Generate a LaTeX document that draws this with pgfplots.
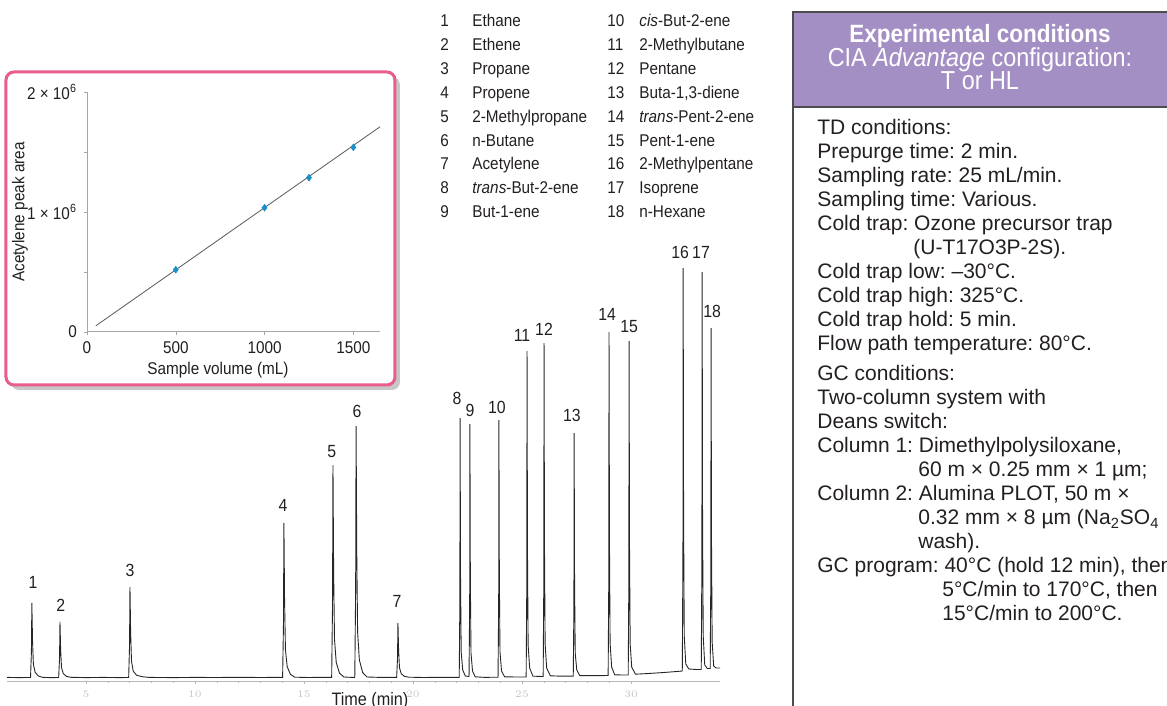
\documentclass[border=0pt]{standalone}
\usepackage{fontspec}
\setmainfont{Liberation Sans}[FakeStretch=0.9]
\newfontfamily\bodyfam{Liberation Sans}
\usepackage{pgfplots}
\pgfplotsset{compat=1.18}
\usetikzlibrary{shadows}
\definecolor{inkc}{HTML}{231F20}
\definecolor{pinkc}{HTML}{E85C8E}
\definecolor{hdrc}{HTML}{A48FC4}
\definecolor{ptc}{HTML}{1B8FCB}
\definecolor{boxc}{HTML}{4D4D4D}
\newcommand{\bodyfont}{\bodyfam\fontsize{10.5bp}{12bp}\selectfont}
\newcommand{\legfont}{\fontsize{8.5bp}{10bp}\selectfont}
\newcommand{\rl}[3]{\node[anchor=base west,font=\bodyfont,inner sep=0pt] at (#1,#2) {#3};}
\newcommand{\legline}[3]{\node[anchor=base west,font=\legfont,inner sep=0pt] at (#1,#2) {#3};}
\frenchspacing

\begin{document}
\begin{tikzpicture}[every node/.style={text=inkc}]
\useasboundingbox (0,0) rectangle (583.5bp,353bp);

% chromatogram
\begin{axis}[
  at={(3.5bp,12.5bp)}, anchor=south west,
  width=356.5bp, height=220bp, scale only axis,
  xmin=1.38, xmax=34.08, ymin=0, ymax=440,
  axis x line=bottom, axis y line=none,
  axis line style={-, draw=gray!55, line width=0.5bp},
  xtick={5,10,...,30}, minor x tick num=4,
  tick align=outside, major tick length=1.5bp, minor tick length=1bp,
  tick style={gray!55},
  xticklabel style={font=\fontsize{2.5bp}{3bp}\selectfont, text=gray!45},
  xlabel={Time (min)},
  xlabel style={font=\fontsize{9bp}{10bp}\selectfont, at={(axis description cs:0.509,-0.045)}, anchor=center},
  clip=false,
]
\addplot[black!85, line width=0.45bp] table {
t y
1.38 3.6
1.9 3.4
2.3 3.5
2.46 3.5
2.50 29.6
2.52 78
2.55 40.8
2.59 16.9
2.67 8.7
2.82 5.0
3.02 3.6
3.4 3.4
3.75 3.5
3.79 22.9
3.81 59
3.84 31.3
3.88 13.5
3.96 7.4
4.11 4.6
4.31 3.7
5.0 3.4
5.8 3.6
6.5 3.4
6.96 3.5
7.00 35.2
7.02 94
7.05 48.8
7.09 19.8
7.17 9.8
7.32 5.8
7.6 4.2
7.9 3.6
9.0 3.4
10.0 3.6
11.0 3.5
12.0 3.7
13.0 3.5
13.6 3.6
14.02 3.6
14.06 57.6
14.08 158
14.11 80.8
14.15 31.3
14.23 14.3
14.38 6.6
14.58 3.8
15.2 3.5
15.8 3.7
16.27 3.6
16.31 77.9
16.33 216
16.36 109.8
16.40 41.8
16.48 18.4
16.63 7.8
16.83 4.0
17.1 3.7
17.33 3.6
17.37 91.5
17.39 255
17.42 129.3
17.46 48.8
17.54 21.1
17.69 8.5
17.89 4.0
18.5 3.6
19.0 3.7
19.25 3.6
19.29 22.6
19.31 58
19.34 30.8
19.38 13.3
19.46 7.3
19.61 4.6
19.81 3.8
20.5 3.5
21.3 3.7
21.9 3.6
22.12 3.6
22.15 80
22.16 263
22.18 105
22.21 29
22.28 11
22.40 5.0
22.57 4.5
22.60 80
22.61 257
22.63 103
22.66 28
22.73 10
22.85 4.2
23.3 3.6
23.7 3.8
23.90 3.7
23.93 80
23.94 261
23.96 105
23.99 29
24.06 10
24.2 4.2
24.7 4.0
25.19 4.0
25.22 100
25.23 330
25.25 132
25.28 36
25.35 13
25.5 4.8
25.97 4.5
26.00 102
26.01 338
26.03 135
26.06 37
26.13 13
26.3 5.2
26.8 4.8
27.35 4.9
27.38 75
27.39 248
27.41 100
27.44 28
27.51 11
27.65 5.4
28.3 5.3
28.95 5.5
28.98 105
28.99 349
29.01 140
29.04 38
29.11 14
29.25 6.2
29.6 6.0
29.87 6.0
29.90 102
29.91 340
29.93 136
29.96 37
30.03 14
30.2 6.8
30.8 7.5
31.5 8.5
32.1 9.5
32.35 10
32.38 125
32.39 413
32.41 165
32.44 45
32.51 17
32.65 12
33.0 11.5
33.22 11.5
33.25 123
33.26 409
33.28 164
33.31 45
33.38 16
33.5 12.5
33.63 12.5
33.66 106
33.67 353
33.69 141
33.72 39
33.79 15
33.9 13
34.08 13
};
\addplot[only marks, mark=none, nodes near coords, point meta=explicit symbolic,
  nodes near coords style={font=\fontsize{8.8bp}{10bp}\selectfont, anchor=center, text=inkc}]
  table[meta=lab] {
x y lab
2.57 99 1
3.85 76 2
7.02 111 3
14.04 176 4
16.28 229 5
17.43 270 6
19.27 80 7
22.02 283 8
22.61 271 9
23.85 274 10
25.00 346 11
26.01 352 12
27.29 266 13
28.90 367 14
29.91 354 15
32.25 429 16
33.21 429 17
33.72 370 18
};
\end{axis}

\begin{scope}[x=0.5bp,y=-0.5bp,yshift=353bp]
% inset frame
\path[draw=pinkc, line width=1.5bp, fill=white, rounded corners=4bp,
  drop shadow={shadow xshift=2.5bp, shadow yshift=-2.5bp, opacity=0.22, fill=black}]
  (6,72) rectangle (395,385);

% peak list
\legline{440}{27}{1}   \legline{472}{27}{Ethane}
\legline{440}{51}{2}   \legline{472}{51}{Ethene}
\legline{440}{75}{3}   \legline{472}{75}{Propane}
\legline{440}{99}{4}   \legline{472}{99}{Propene}
\legline{440}{123}{5}  \legline{472}{123}{2-Methylpropane}
\legline{440}{147}{6}  \legline{472}{147}{n-Butane}
\legline{440}{170}{7}  \legline{472}{170}{Acetylene}
\legline{440}{194}{8}  \legline{472}{194}{\textit{trans}-But-2-ene}
\legline{440}{218}{9}  \legline{472}{218}{But-1-ene}
\legline{607}{27}{10}  \legline{639}{27}{\textit{cis}-But-2-ene}
\legline{607}{51}{11}  \legline{639}{51}{2-Methylbutane}
\legline{607}{75}{12}  \legline{639}{75}{Pentane}
\legline{607}{99}{13}  \legline{639}{99}{Buta-1,3-diene}
\legline{607}{123}{14} \legline{639}{123}{\textit{trans}-Pent-2-ene}
\legline{607}{147}{15} \legline{639}{147}{Pent-1-ene}
\legline{607}{170}{16} \legline{639}{170}{2-Methylpentane}
\legline{607}{194}{17} \legline{639}{194}{Isoprene}
\legline{607}{218}{18} \legline{639}{218}{n-Hexane}

% conditions panel
\fill[hdrc] (793,12) rectangle (1185,107);
\draw[boxc, line width=1bp] (1185,12) -- (793,12) -- (793,720);
\draw[boxc, line width=1bp] (793,107) -- (1185,107);
\node[anchor=base, text=white, inner sep=0pt, font=\fontsize{12.5bp}{14bp}\selectfont\bfseries] at (980,43) {Experimental conditions};
\node[anchor=base, text=white, inner sep=0pt, font=\fontsize{13bp}{15bp}\selectfont] at (980,67) {CIA \textit{Advantage} configuration:};
\node[anchor=base, text=white, inner sep=0pt, font=\fontsize{13bp}{15bp}\selectfont] at (980,90) {T or HL};

\rl{817}{135}{TD conditions:}
\rl{817}{159}{Prepurge time: 2 min.}
\rl{817}{183}{Sampling rate: 25 mL/min.}
\rl{817}{207}{Sampling time: Various.}
\rl{817}{231}{Cold trap: Ozone precursor trap}
\rl{913}{255}{(U-T17O3P-2S).}
\rl{817}{279}{Cold trap low: –30°C.}
\rl{817}{303}{Cold trap high: 325°C.}
\rl{817}{327}{Cold trap hold: 5 min.}
\rl{817}{351}{Flow path temperature: 80°C.}
\rl{817}{381}{GC conditions:}
\rl{817}{405}{Two-column system with}
\rl{817}{429}{Deans switch:}
\rl{817}{453}{Column 1: Dimethylpolysiloxane,}
\rl{918}{477}{60 m × 0.25 mm × 1 µm;}
\rl{817}{501}{Column 2: Alumina PLOT, 50 m ×}
\rl{918}{525}{0.32 mm × 8 µm (Na\textsubscript{2}SO\textsubscript{4}}
\rl{918}{549}{wash).}
\rl{817}{573}{GC program: 40°C (hold 12 min), then}
\rl{942}{597}{5°C/min to 170°C, then}
\rl{942}{621}{15°C/min to 200°C.}
\end{scope}

% inset calibration plot
\begin{axis}[
  at={(43.5bp,187bp)}, anchor=south west,
  width=146.5bp, height=120bp, scale only axis,
  xmin=0, xmax=1650, ymin=0, ymax=2000000,
  axis x line*=bottom, axis y line*=left,
  axis line style={-, draw=gray!70, line width=0.5bp},
  xtick={0,500,1000,1500},
  ytick={0,1000000,2000000},
  yticklabels={0, 1 × 10\textsuperscript{6}, 2 × 10\textsuperscript{6}},
  minor ytick={500000,1500000},
  scaled x ticks=false, scaled y ticks=false,
  tick align=outside, major tick length=1.5bp, minor tick length=1.5bp,
  tick style={gray!70},
  /pgf/number format/assume math mode=true,
  /pgf/number format/1000 sep={},
  ticklabel style={font=\fontsize{8.5bp}{10bp}\selectfont, text=inkc},
  xlabel={Sample volume (mL)}, ylabel={Acetylene peak area},
  label style={font=\fontsize{8.5bp}{10bp}\selectfont, text=inkc},
  xlabel style={at={(axis description cs:0.447,-0.158)}, anchor=center},
  ylabel style={at={(axis description cs:-0.229,0.5)}, anchor=center},
  clip=false,
]
\addplot[black!65, line width=0.4bp] coordinates {(50,52000) (1650,1710000)};
\addplot[only marks, mark=diamond*, mark size=1.6bp, color=ptc] coordinates {
  (500,519000) (1000,1036000) (1250,1286000) (1500,1539000)};
\end{axis}
\end{tikzpicture}
\end{document}
